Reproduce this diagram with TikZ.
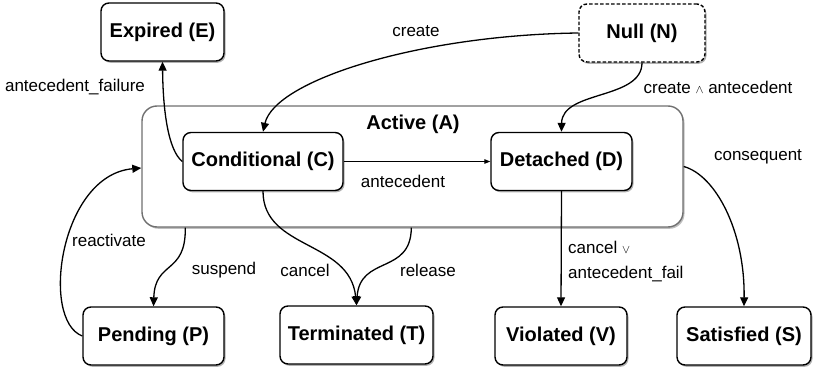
\documentclass[tikz,border=0pt]{standalone}
\usepackage{fontspec}
\setmainfont{Liberation Sans}
\usetikzlibrary{arrows.meta,shadows,calc}
\definecolor{boxgray}{HTML}{707070}
\newcommand{\opsym}[1]{{\fontsize{13}{14}\selectfont$#1$}}
\begin{document}
\begin{tikzpicture}[x=1pt,y=-1pt,
  state/.style={draw=black,line width=1.4pt,rounded corners=8pt,fill=white,
    inner sep=0pt,minimum height=58pt,
    font=\fontsize{20}{24}\selectfont\bfseries,
    drop shadow={shadow xshift=1.5pt,shadow yshift=-1.8pt,opacity=0.3,fill=black}},
  lbl/.style={font=\fontsize{17}{20}\selectfont,inner sep=0pt},
  tr/.style={line width=1.3pt,-{Triangle[length=9pt,width=8pt]}},
  thin/.style={line width=1pt,-{Triangle[length=6pt,width=4.5pt]}}
]
\useasboundingbox (0,0) rectangle (813,369);
% container
\node[draw=boxgray,line width=1.4pt,rounded corners=15pt,fill=white,
  minimum width=541pt,minimum height=121pt,inner sep=0pt,
  drop shadow={shadow xshift=1.5pt,shadow yshift=-1.8pt,opacity=0.25,fill=black}]
  (A) at (412.5,166.5) {};
\node[font=\fontsize{20}{24}\selectfont\bfseries,inner sep=0pt] (Alab) at (413,124) {Active (A)};
% states
\node[state,minimum width=123pt] (E) at (162.5,32) {Expired (E)};
\node[state,minimum width=126pt,dash pattern=on 3.5pt off 2pt] (N) at (642,33) {Null (N)};
\node[state,minimum width=160pt] (C) at (263,161.5) {Conditional (C)};
\node[state,minimum width=141pt] (D) at (561.5,161.5) {Detached (D)};
\node[state,minimum width=141pt] (P) at (153.5,336) {Pending (P)};
\node[state,minimum width=153pt] (T) at (356.5,335) {Terminated (T)};
\node[state,minimum width=132pt] (V) at (561,336) {Violated (V)};
\node[state,minimum width=134pt] (S) at (744,336) {Satisfied (S)};
% anchor points on container
\coordinate (Asusp) at ($(A.south west)+(44,0)$);
\coordinate (Arel) at ($(A.south west)+(270,0)$);
\coordinate (Aleft) at ($(A.west)+(0,1.5)$);
% edges
\draw[tr] (N.west) .. controls (420,35) and (275,80) .. (C.north);
\draw[tr] (N.south) .. controls (642,100) and (562,90) .. (D.north);
\draw[thin] (C.east) -- (D.west);
\draw[tr] (C.west) .. controls (168,150) and (163,110) .. (E.south);
\draw[tr] (P.west) .. controls (40,320) and (60,175) .. (Aleft);
\draw[tr] (Asusp) .. controls (186,275) and (155,260) .. (P.north);
\draw[tr] (C.south) .. controls (263,250) and (350,240) .. (T.north);
\draw[tr] (Arel) .. controls (411,275) and (360,255) .. (T.north);
\draw[tr] (D.south) -- (V.north);
\draw[tr] (A.east) .. controls (715,175) and (745,230) .. (S.north);
% labels
\node[lbl] (l1) at (416,31) {create};
\node[lbl] (l2) at (718,87) {create \opsym{\wedge} antecedent};
\node[lbl] (l3) at (403,181) {antecedent};
\node[lbl] (l4) at (75,87) {antecedent\_failure};
\node[lbl] (l5) at (109,240) {reactivate};
\node[lbl] (l6) at (224,270) {suspend};
\node[lbl] (l7) at (305,270) {cancel};
\node[lbl] (l8) at (428,270) {release};
\node[lbl,anchor=west,align=left,font=\fontsize{17}{25}\selectfont] (l9) at (568,262) {cancel \opsym{\vee}\\antecedent\_fail};
\node[lbl] (l10) at (758,157) {consequent};
\end{tikzpicture}
\end{document}
